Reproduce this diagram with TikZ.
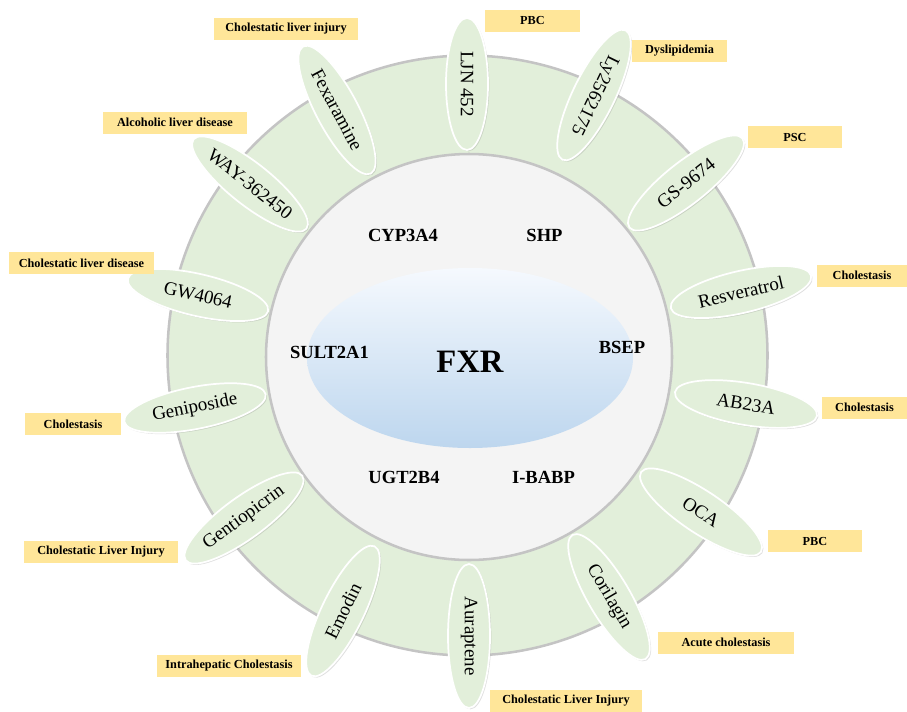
\documentclass[tikz,border=0pt]{standalone}
\usepackage{fontspec}
\setmainfont{Liberation Serif}
\usetikzlibrary{shapes.geometric,shadows}
\definecolor{ringgreen}{HTML}{E2EFDA}
\definecolor{pillgreen}{HTML}{E2EFDA}
\definecolor{ringgray}{HTML}{C4C4C4}
\definecolor{innerfill}{HTML}{F4F4F4}
\definecolor{tagyellow}{HTML}{FFE699}
\definecolor{fxrtop}{HTML}{F5F9FE}
\definecolor{fxrbot}{HTML}{BDD6EE}
\begin{document}
\begin{tikzpicture}[x=0.75pt,y=-0.75pt,
  ring/.style={draw=ringgray, line width=1.9pt},
  pill/.style={ellipse, fill=pillgreen, draw=white, line width=1.3pt,
    minimum width=108pt, minimum height=31.5pt, inner sep=0pt,
    drop shadow={opacity=0.25, shadow xshift=1pt, shadow yshift=-1pt}},
  pilltext/.style={font=\fontsize{14.2}{16}\selectfont, inner sep=0pt},
  tag/.style={fill=tagyellow, inner sep=0pt, minimum height=16.5pt,
    font=\bfseries\fontsize{9.2}{11}\selectfont},
  gene/.style={font=\bfseries\fontsize{13.9}{16}\selectfont, anchor=base, inner sep=0pt}]
\useasboundingbox (0,0) rectangle (907,711);
% rings
\path[ring, fill=ringgreen] (467.5,355.5) circle[radius=300];
\path[ring, fill=innerfill] (469,357) circle[radius=203];
\path[top color=fxrtop, bottom color=fxrbot] (470,358) ellipse[x radius=163, y radius=90];
% genes
\node[font=\bfseries\fontsize{24.5}{28}\selectfont, anchor=base, inner sep=0pt] (fxr) at (470,372) {FXR};
\node[gene] (cyp) at (403,241) {CYP3A4};
\node[gene] (shp) at (544.5,241) {SHP};
\node[gene] (sult) at (329.5,358) {SULT2A1};
\node[gene] (bsep) at (622,353) {BSEP};
\node[gene] (ugt) at (404,483) {UGT2B4};
\node[gene] (ibabp) at (543.5,483) {I-BABP};
% pills
\node[pill, rotate=90, minimum width=99pt] (p1) at (467,84) {};
\node[pilltext, rotate=-90] (t1) at (p1) {LJN 452};
\node[pill, rotate=64] (p2) at (594,95) {};
\node[pilltext, rotate=-116] (t2) at (p2) {Ly2562175};
\node[pill, rotate=38.3] (p3) at (686,183) {};
\node[pilltext, rotate=38.3] (t3) at (p3) {GS-9674};
\node[pill, rotate=13] (p4) at (741,292) {};
\node[pilltext, rotate=13] (t4) at (p4) {Resveratrol};
\node[pill, rotate=-9.5] (p5) at (746,404) {};
\node[pilltext, rotate=-9.5] (t5) at (p5) {AB23A};
\node[pill, rotate=-33.7] (p6) at (701,512) {};
\node[pilltext, rotate=-33.7] (t6) at (p6) {OCA};
\node[pill, rotate=-59.5] (p7) at (609,597) {};
\node[pilltext, rotate=-59.5] (t7) at (p7) {Corilagin};
\node[pill, rotate=-90] (p8) at (469,636) {};
\node[pilltext, rotate=-90] (t8) at (p8) {Auraptene};
\node[pill, rotate=64] (p9) at (343,611) {};
\node[pilltext, rotate=64] (t9) at (p9) {Emodin};
\node[pill, rotate=36] (p10) at (244,518) {};
\node[pilltext, rotate=36] (t10) at (p10) {Gentiopicrin};
\node[pill, rotate=11] (p11) at (195,408) {};
\node[pilltext, rotate=11] (t11) at (p11) {Geniposide};
\node[pill, rotate=-13] (p12) at (198,295) {};
\node[pilltext, rotate=-13] (t12) at (p12) {GW4064};
\node[pill, rotate=-38.4] (p13) at (250,184) {};
\node[pilltext, rotate=-38.4] (t13) at (p13) {WAY-362450};
\node[pill, rotate=-62] (p14) at (337,110) {};
\node[pilltext, rotate=-62] (t14) at (p14) {Fexaramine};
% disease tags
\node[tag, minimum width=71.25pt] (d1) at (532.5,20.5) {PBC};
\node[tag, minimum width=71.25pt] (d2) at (679.5,50.5) {Dyslipidemia};
\node[tag, minimum width=70.5pt] (d3) at (795,137) {PSC};
\node[tag, minimum width=67.5pt] (d4) at (862,275.5) {Cholestasis};
\node[tag, minimum width=63.75pt] (d5) at (864.5,407.5) {Cholestasis};
\node[tag, minimum width=70.5pt] (d6) at (815,541) {PBC};
\node[tag, minimum width=102pt] (d7) at (726,642.5) {Acute cholestasis};
\node[tag, minimum width=114pt] (d8) at (566,700.5) {Cholestatic Liver Injury};
\node[tag, minimum width=108pt] (d9) at (229,666) {Intrahepatic Cholestasis};
\node[tag, minimum width=115.5pt] (d10) at (101,552) {Cholestatic Liver Injury};
\node[tag, minimum width=72pt] (d11) at (73,424) {Cholestasis};
\node[tag, minimum width=108.75pt] (d12) at (81.5,263) {Cholestatic liver disease};
\node[tag, minimum width=108pt] (d13) at (175,122.5) {Alcoholic liver disease};
\node[tag, minimum width=108pt] (d14) at (286,29) {Cholestatic liver injury};
\end{tikzpicture}
\end{document}
